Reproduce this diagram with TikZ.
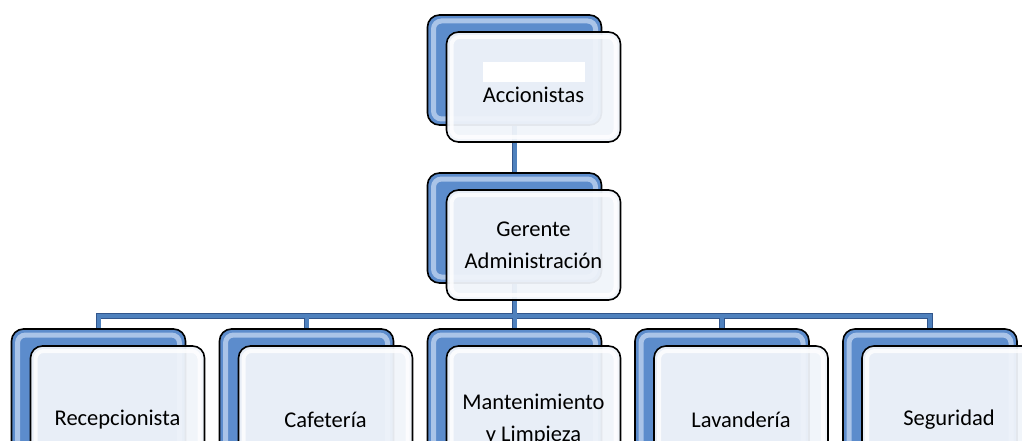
\documentclass[tikz,border=0pt]{standalone}
\usepackage{fontspec}
\setmainfont{Carlito}
\definecolor{OrgBlue}{RGB}{92,140,204}
\definecolor{OrgLight}{RGB}{184,206,238}
\definecolor{OrgPale}{RGB}{240,244,250}
\definecolor{OrgLink}{RGB}{79,129,189}
\definecolor{OrgEdge}{RGB}{50,86,140}
\usetikzlibrary{positioning, backgrounds}

\begin{document}
\begin{tikzpicture}[x=1pt, y=-1pt,
    backbox/.style={rounded corners=12pt, minimum width=174pt, minimum height=110pt,
                draw=black, line width=1.6pt, fill=OrgBlue,
                path picture={\draw[OrgLight, line width=5pt, rounded corners=8pt, opacity=0.85]
                  ([shift={(6pt,-6pt)}]path picture bounding box.north west) rectangle
                  ([shift={(-6pt,6pt)}]path picture bounding box.south east);}},
    frontbox/.style={rounded corners=12pt, minimum width=174pt, minimum height=110pt,
                draw=black, line width=1.6pt, fill=OrgPale, fill opacity=0.95,
                text opacity=1, align=center, anchor=north west,
                font=\fontsize{22.5}{32}\selectfont,
                path picture={\draw[white, line width=4pt, rounded corners=8pt, opacity=0.8]
                  ([shift={(5pt,-5pt)}]path picture bounding box.north west) rectangle
                  ([shift={(-5pt,5pt)}]path picture bounding box.south east);}},
    tall/.style={minimum height=148pt},
    link/.style={draw=OrgEdge, double=OrgLink, double distance=4pt, line width=0.9pt}
  ]
    \clip (0,0) rectangle (1022,441);

    % Accionistas
    \node[backbox] (accb) at (514.5, 70) {};
    \node[frontbox] (accf) at ([xshift=19pt, yshift=-17pt]accb.north west)
      {\mbox{}\\Accionistas};
    \fill[white] (483,62) rectangle (585,82);

    % Gerente
    \node[backbox] (gerb) at (514.5, 228) {};
    \node[frontbox] (gerf) at ([xshift=19pt, yshift=-17pt]gerb.north west)
      {Gerente\\Administración};

    \coordinate (bus) at (514.5, 316);

    % Areas
    \node[backbox, tall] (recb) at (98.5, 403) {};
    \node[frontbox, tall] (recf) at ([xshift=19pt, yshift=-17pt]recb.north west)
      {Recepcionista};

    \node[backbox, tall] (cafb) at (306.5, 403) {};
    \node[frontbox, tall] (caff) at ([xshift=19pt, yshift=-17pt]cafb.north west)
      {Cafetería};

    \node[backbox, tall] (manb) at (514.5, 403) {};
    \node[frontbox, tall] (manf) at ([xshift=19pt, yshift=-17pt]manb.north west)
      {Mantenimiento\\y Limpieza};

    \node[backbox, tall] (lavb) at (722, 403) {};
    \node[frontbox, tall] (lavf) at ([xshift=19pt, yshift=-17pt]lavb.north west)
      {Lavandería};

    \node[backbox, tall] (segb) at (930, 403) {};
    \node[frontbox, tall] (segf) at ([xshift=19pt, yshift=-17pt]segb.north west)
      {Seguridad};

    % Lines
    \begin{pgfonlayer}{background}
      \draw[link] (accb.south) -- (gerb.north)
        (gerb.south) -- (bus)
        (recb.north) |- (bus) -| (segb.north)
        (cafb.north) -- (cafb.north |- bus)
        (manb.north) -- (bus)
        (lavb.north) -- (lavb.north |- bus);
    \end{pgfonlayer}
  \end{tikzpicture}
\end{document}
